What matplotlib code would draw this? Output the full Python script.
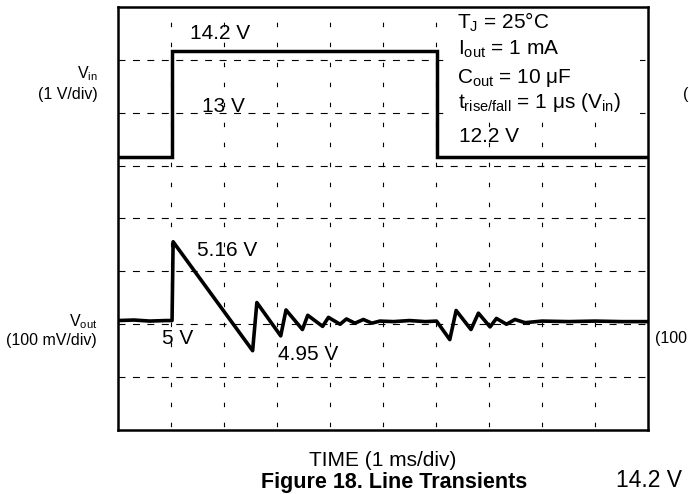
import matplotlib
matplotlib.use("Agg")
import matplotlib.pyplot as plt
from matplotlib.patches import Rectangle

plt.rcParams['font.family'] = ['Liberation Sans', 'DejaVu Sans']
plt.rcParams['mathtext.fontset'] = 'custom'
plt.rcParams['mathtext.rm'] = 'Liberation Sans'
plt.rcParams['mathtext.it'] = 'Liberation Sans'
plt.rcParams['lines.scale_dashes'] = False

# 数据 (时间: ms, 电压: V)
vin_t = [0, 1.01, 1.01, 6.02, 6.02, 10]
vin_v = [12.2, 12.2, 14.2, 14.2, 12.2, 12.2]

vout_t = [0, 0.3, 0.6, 0.9, 1.02, 1.04, 2.54, 2.62, 3.07, 3.17, 3.48, 3.58,
          3.86, 3.97, 4.19, 4.31, 4.47, 4.63, 4.79, 4.94, 5.2, 5.5, 5.8, 6.01,
          6.26, 6.38, 6.66, 6.80, 7.02, 7.14, 7.33, 7.49, 7.68, 8.0, 8.5, 9.0,
          9.5, 10]
vout_v = [5.001, 5.002, 5.000, 5.001, 5.001, 5.150, 4.944, 5.035, 4.972, 5.021,
          4.984, 5.011, 4.990, 5.007, 4.994, 5.004, 4.996, 5.003, 4.996, 5.000,
          4.999, 5.001, 4.999, 5.000, 4.965, 5.020, 4.984, 5.015, 4.989, 5.005,
          4.994, 5.003, 4.997, 5.000, 4.999, 5.000, 4.999, 4.999]

W, H = 689, 494
fig = plt.figure(figsize=(W / 100, H / 100), dpi=100)

# 示波器网格: 10 x 8 格
ax = fig.add_axes([118 / W, 1 - 430 / H, 530 / W, 423 / H])
ax.set_xlim(0, 10)
ax.set_ylim(0, 8)
ax.set_xticks(range(1, 10))
ax.set_yticks(range(1, 8))
ax.tick_params(length=0, labelbottom=False, labelleft=False)
ax.xaxis.grid(True, color='black', lw=0.8, linestyle=(12, (3.2, 11.2)))
ax.yaxis.grid(True, color='black', lw=0.8, linestyle=(0, (5, 5.4)))
for s in ax.spines.values():
    s.set_linewidth(1.8)

# 条件说明框 (白底)
ax.add_patch(Rectangle((6.23, 5.90), 3.62, 1.96, facecolor='white',
                       edgecolor='none', zorder=2))
fs = 15
ax.text(6.40, 7.59, 'T$_\\mathrm{J}$ = 25°C', fontsize=fs, zorder=3)
ax.text(6.42, 7.09, 'I$_\\mathrm{out}$ = 1 mA', fontsize=fs, zorder=3)
ax.text(6.40, 6.57, 'C$_\\mathrm{out}$ = 10 μF', fontsize=fs, zorder=3)
ax.text(6.42, 6.09, 't$_\\mathrm{rise/fall}$ = 1 μs (V$_\\mathrm{in}$)',
        fontsize=fs, zorder=3)
ax.text(6.43, 5.44, '12.2 V', fontsize=fs)
ax.text(1.36, 7.39, '14.2 V', fontsize=fs)
ax.text(1.585, 6.01, '13 V', fontsize=fs)
ax.text(1.485, 3.30, '5.16 V', fontsize=fs)
ax.text(0.825, 1.62, '5 V', fontsize=fs)
ax.text(3.02, 1.32, '4.95 V', fontsize=fs)

# Vin: 1 V/div
ax_in = ax.twinx()
ax_in.set_ylim(12.2 - 5.165, 12.2 - 5.165 + 8)
ax_in.set_axis_off()
ax_in.plot(vin_t, vin_v, color='black', lw=2.5, solid_joinstyle='miter')

# Vout: 100 mV/div
ax_out = ax.twinx()
ax_out.set_ylim(4.794, 4.794 + 0.8)
ax_out.set_axis_off()
ax_out.plot(vout_t, vout_v, color='black', lw=2.6, solid_joinstyle='round',
            solid_capstyle='round')

# 轴标签
ls = 11.5
fig.text(98 / W, 1 - 78.3 / H, 'V$_\\mathrm{in}$', ha='right', fontsize=ls)
fig.text(98 / W, 1 - 99.3 / H, '(1 V/div)', ha='right', fontsize=ls)
fig.text(97 / W, 1 - 326.7 / H, 'V$_\\mathrm{out}$', ha='right', fontsize=ls)
fig.text(97 / W, 1 - 345 / H, '(100 mV/div)', ha='right', fontsize=ls)
fig.text(383 / W, 1 - 466 / H, 'TIME (1 ms/div)', ha='center', fontsize=fs)
fig.text(394 / W, 1 - 488 / H, 'Figure 18. Line Transients', ha='center',
         fontsize=15.5, fontweight='bold')

# 右侧被裁掉的相邻图文字
fig.text(683 / W, 1 - 99.3 / H, '(1 V/div)', fontsize=ls)
fig.text(655 / W, 1 - 343 / H, '(100 mV/div)', fontsize=ls)
fig.text(616 / W, 1 - 487 / H, '14.2 V', fontsize=16.5)

fig.savefig('out.png', dpi=100)
